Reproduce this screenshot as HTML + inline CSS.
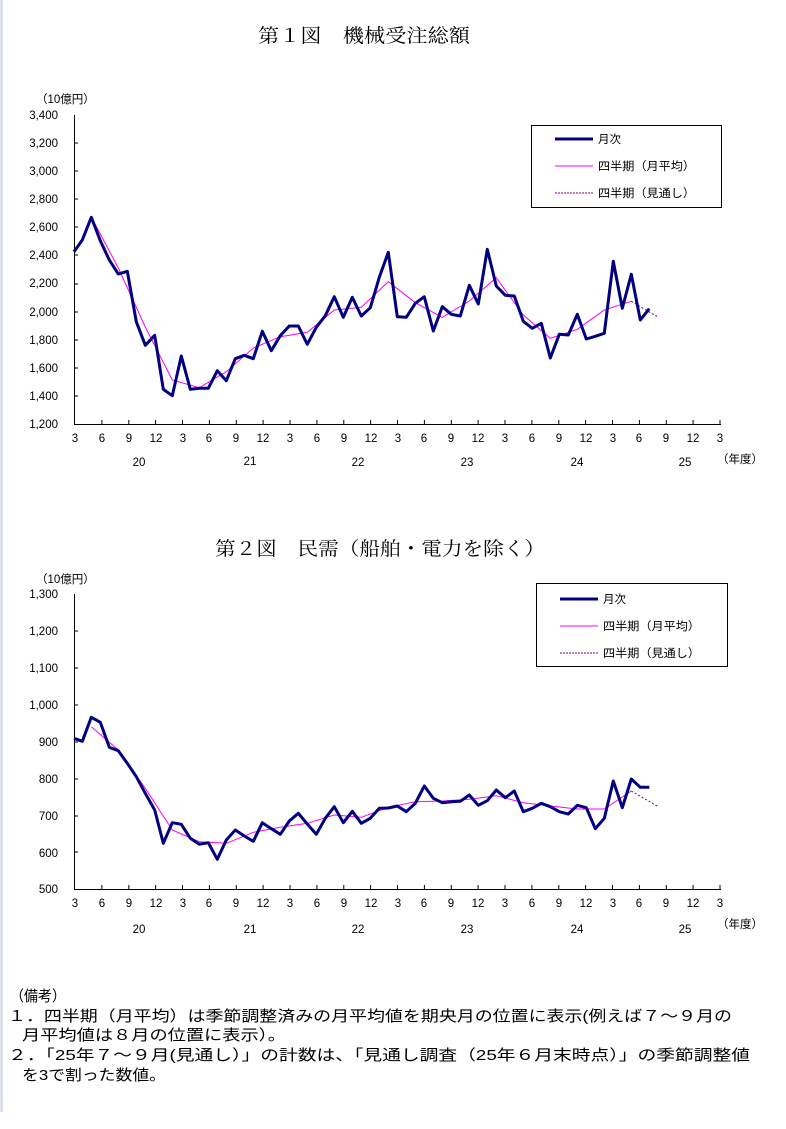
<!DOCTYPE html>
<html><head><meta charset="utf-8"><style>
html,body{margin:0;padding:0;background:#fff;}
svg{display:block;font-family:"Liberation Sans","Noto Sans CJK JP",sans-serif;}
.t{font-size:11.5px;fill:#000;}
.h{font-size:19px;fill:#000;font-family:"Liberation Serif","Noto Serif CJK SC",serif;}
.n{font-size:15px;fill:#000;}
</style></head><body>
<svg width="786" height="1129" viewBox="0 0 786 1129">
<line x1="1.5" y1="0" x2="1.5" y2="1112" stroke="#c8d4e8" stroke-width="2"/>
<text class="h" x="258" y="42" textLength="212" lengthAdjust="spacingAndGlyphs">第１図　機械受注総額</text>
<text class="t" x="36" y="103">（10億円）</text>
<g class="t" text-anchor="end">
<text x="58" y="119">3,400</text><text x="58" y="147">3,200</text><text x="58" y="175">3,000</text><text x="58" y="203">2,800</text><text x="58" y="231">2,600</text><text x="58" y="259">2,400</text><text x="58" y="287">2,200</text><text x="58" y="316">2,000</text><text x="58" y="344">1,800</text><text x="58" y="372">1,600</text><text x="58" y="400">1,400</text><text x="58" y="428">1,200</text>
</g>
<g stroke="#000" stroke-width="1" fill="none">
<path d="M74.5,115V424.5H721"/>
<path d="M74,143h4M74,171h4M74,199h4M74,227h4M74,255h4M74,284h4M74,312h4M74,340h4M74,368h4M74,396h4"/>
<path id="xt" d="M101.9,424v-4M128.8,424v-4M155.6,424v-4M182.5,424v-4M209.4,424v-4M236.3,424v-4M263.1,424v-4M290,424v-4M316.9,424v-4M343.8,424v-4M370.6,424v-4M397.5,424v-4M424.4,424v-4M451.3,424v-4M478.1,424v-4M505,424v-4M531.9,424v-4M558.8,424v-4M585.6,424v-4M612.5,424v-4M639.4,424v-4M666.3,424v-4M693.1,424v-4M720,424v-4"/>
</g>
<g class="t" text-anchor="middle">
<text x="75" y="442">3</text><text x="102" y="442">6</text><text x="129" y="442">9</text><text x="156" y="442">12</text><text x="183" y="442">3</text><text x="209" y="442">6</text><text x="236" y="442">9</text><text x="263" y="442">12</text><text x="290" y="442">3</text><text x="317" y="442">6</text><text x="344" y="442">9</text><text x="371" y="442">12</text><text x="398" y="442">3</text><text x="424" y="442">6</text><text x="451" y="442">9</text><text x="478" y="442">12</text><text x="505" y="442">3</text><text x="532" y="442">6</text><text x="559" y="442">9</text><text x="586" y="442">12</text><text x="613" y="442">3</text><text x="639" y="442">6</text><text x="666" y="442">9</text><text x="693" y="442">12</text><text x="720" y="442">3</text>
<text x="139" y="466">20</text><text x="250" y="465">21</text><text x="358" y="466">22</text><text x="467" y="466">23</text><text x="577" y="466">24</text><text x="685" y="466">25</text><text x="740" y="463">（年度）</text>
</g>
<polyline fill="none" stroke="#ff00ff" stroke-width="1" points="91.3,217 118.3,268 145.3,327 172.3,380 199.3,387.7 226.3,371.7 253.3,348 280.3,336.7 307.3,332.3 334.3,310 361.3,307.3 388.3,281.7 415.3,302.7 442.3,317.3 469.3,301 496.3,277.7 523.3,315 550.3,338.3 577.3,329.3 604.3,310 631.3,301.3"/>
<polyline fill="none" stroke="#800080" stroke-width="1" stroke-dasharray="2,2" points="631.3,301.3 658.3,317.3"/>
<polyline fill="none" stroke="#000080" stroke-width="3" stroke-linejoin="round" points="74,251.7 82.3,240 91.3,217.3 100.3,240.7 109.3,260 118.3,274 127.3,271.3 136.3,321.7 145.3,345.3 154.7,335.3 163.3,389.3 172.3,395.7 181.3,356 190.3,389.3 199.3,388.3 208.3,388.3 217.3,370.7 226.3,380.7 235.3,358.7 244.3,355.3 253.3,358.7 262.3,331.3 271.3,350.7 280.3,335.7 289.3,326 298.3,326 307.3,344.3 316.3,327.3 325.3,315.7 334.3,296.7 343.3,317.3 352.3,297.3 361.3,316 370.3,307.7 379.3,277.3 388.3,252.3 397.3,316.7 406.3,317.3 415.3,303.3 424.3,296.7 433.3,331 442.3,306.7 451.3,314.3 460.3,316 469.3,285.3 478.3,304 487.3,249.3 496.3,286 505.3,295.3 514.3,296 523.3,321.3 532.3,328.3 541.3,323.3 550.3,358 559.3,334.3 568.3,335 577.3,314.3 586.3,339 595.3,336.3 604.3,333.3 613.3,261.3 622.3,308.3 631.3,274.3 640.3,320 649.3,308.7"/>
<rect x="531.5" y="125.5" width="190" height="82" fill="#fff" stroke="#000"/>
<line x1="555" y1="139" x2="593" y2="139" stroke="#000080" stroke-width="3"/>
<line x1="555" y1="166" x2="593" y2="166" stroke="#ff00ff"/>
<line x1="555" y1="193" x2="593" y2="193" stroke="#800080" stroke-dasharray="2,1"/>
<text class="t" x="598" y="143">月次</text>
<text class="t" x="598" y="170" textLength="97" lengthAdjust="spacingAndGlyphs">四半期（月平均）</text>
<text class="t" x="598" y="197" textLength="97" lengthAdjust="spacingAndGlyphs">四半期（見通し）</text>

<text class="h" x="215" y="555" textLength="330" lengthAdjust="spacingAndGlyphs">第２図　民需（船舶・電力を除く）</text>
<text class="t" x="36" y="583">（10億円）</text>
<g class="t" text-anchor="end">
<text x="58" y="598">1,300</text><text x="58" y="635">1,200</text><text x="58" y="672">1,100</text><text x="58" y="709">1,000</text><text x="58" y="746">900</text><text x="58" y="783">800</text><text x="58" y="820">700</text><text x="58" y="857">600</text><text x="58" y="893">500</text>
</g>
<g stroke="#000" stroke-width="1" fill="none">
<path d="M74.5,594V889.5H721"/>
<path d="M74,631h4M74,668h4M74,705h4M74,742h4M74,779h4M74,816h4M74,852h4"/>
<use href="#xt" transform="translate(0,465)"/>
</g>
<g class="t" text-anchor="middle">
<text x="75" y="907">3</text><text x="102" y="907">6</text><text x="129" y="907">9</text><text x="156" y="907">12</text><text x="183" y="907">3</text><text x="209" y="907">6</text><text x="236" y="907">9</text><text x="263" y="907">12</text><text x="290" y="907">3</text><text x="317" y="907">6</text><text x="344" y="907">9</text><text x="371" y="907">12</text><text x="398" y="907">3</text><text x="424" y="907">6</text><text x="451" y="907">9</text><text x="478" y="907">12</text><text x="505" y="907">3</text><text x="532" y="907">6</text><text x="559" y="907">9</text><text x="586" y="907">12</text><text x="613" y="907">3</text><text x="639" y="907">6</text><text x="666" y="907">9</text><text x="693" y="907">12</text><text x="720" y="907">3</text>
<text x="139" y="933">20</text><text x="250" y="933">21</text><text x="358" y="933">22</text><text x="467" y="933">23</text><text x="577" y="933">24</text><text x="685" y="933">25</text><text x="740" y="928">（年度）</text>
</g>
<polyline fill="none" stroke="#ff00ff" stroke-width="1" points="91.3,726.7 118.3,750 145.3,788.3 172.3,830 199.3,841.7 226.3,843.3 253.3,832.3 280.3,827.3 307.3,823.3 334.3,815 361.3,817.3 388.3,807.3 415.3,801.7 442.3,801 469.3,799.3 496.3,795.7 523.3,802.7 550.3,806 577.3,809 604.3,809 631.3,791"/>
<polyline fill="none" stroke="#800080" stroke-width="1" stroke-dasharray="2,2" points="631.3,791 658.3,806.7"/>
<polyline fill="none" stroke="#000080" stroke-width="3" stroke-linejoin="round" points="74,738.3 82.3,741.3 91.3,717.3 100.3,722.3 109.3,747.3 118.3,750.7 127.3,763.3 136.3,776.7 145.3,793.3 154.7,810 163.3,843.3 172.3,822.7 181.3,824.3 190.3,838.3 199.3,844.3 208.3,842.7 217.3,859.3 226.3,840 235.3,830 244.3,836 253.3,841.3 262.3,822.7 271.3,828.7 280.3,834.3 289.3,821 298.3,813.3 307.3,824 316.3,834.3 325.3,818.3 334.3,806.7 343.3,822.7 352.3,811.3 361.3,823.3 370.3,818.3 379.3,808.3 388.3,808 397.3,806 406.3,811.7 415.3,803.3 424.3,786 433.3,798.3 442.3,802.7 451.3,801.7 460.3,801.3 469.3,795 478.3,805.3 487.3,800.7 496.3,790 505.3,797.7 514.3,791 523.3,811.7 532.3,808.3 541.3,803.3 550.3,806.7 559.3,811.7 568.3,814 577.3,805.3 586.3,807.7 595.3,828.7 604.3,818.3 613.3,781 622.3,807.7 631.3,779 640.3,787.3 649.3,787.3"/>
<rect x="536.5" y="583.5" width="191" height="83" fill="#fff" stroke="#000"/>
<line x1="560" y1="599" x2="598" y2="599" stroke="#000080" stroke-width="3"/>
<line x1="560" y1="626" x2="598" y2="626" stroke="#ff00ff"/>
<line x1="560" y1="653" x2="598" y2="653" stroke="#800080" stroke-dasharray="2,1"/>
<text class="t" x="603" y="603">月次</text>
<text class="t" x="603" y="630" textLength="97" lengthAdjust="spacingAndGlyphs">四半期（月平均）</text>
<text class="t" x="603" y="657" textLength="97" lengthAdjust="spacingAndGlyphs">四半期（見通し）</text>

<g class="n">
<text x="10" y="1001" textLength="56" lengthAdjust="spacingAndGlyphs">（備考）</text>
<text x="8" y="1021" textLength="724" lengthAdjust="spacingAndGlyphs">１．四半期（月平均）は季節調整済みの月平均値を期央月の位置に表示(例えば７～９月の</text>
<text x="22" y="1040" textLength="264" lengthAdjust="spacingAndGlyphs">月平均値は８月の位置に表示）。</text>
<text x="8" y="1060" textLength="742" lengthAdjust="spacingAndGlyphs">２．「25年７～９月(見通し）」の計数は、「見通し調査（25年６月末時点）」の季節調整値</text>
<text x="22" y="1080" textLength="144" lengthAdjust="spacingAndGlyphs">を3で割った数値。</text>
</g>
</svg>
</body></html>
